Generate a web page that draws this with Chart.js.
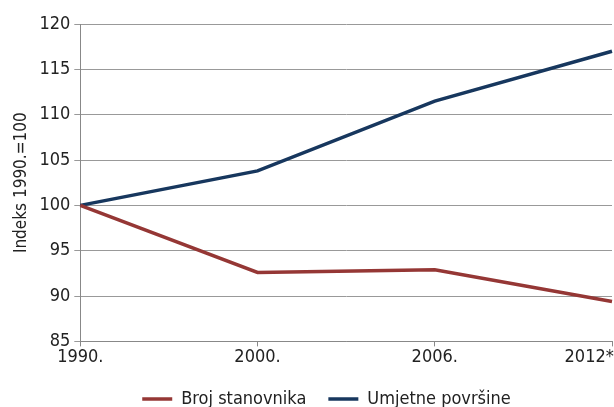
<!DOCTYPE html>
<html>
<head>
<meta charset="utf-8">
<script src="https://cdn.jsdelivr.net/npm/chart.js@4"></script>
<style>
  html, body { margin: 0; padding: 0; overflow: hidden; background: #fff; }
  #wrap { position: relative; width: 660px; height: 418px; }
</style>
</head>
<body>
<div id="wrap"><canvas id="chart"></canvas></div>
<script>
// categories and series (index, 1990. = 100)
const years = ['1990.', '2000.', '2006.', '2012*.'];
const brojStanovnika = [100, 92.6, 92.9, 89.4];
const umjetnePovrsine = [100, 103.8, 111.5, 117.0];
const yTicks = [85, 90, 95, 100, 105, 110, 115, 120];

const fontFamily = '"Liberation Sans Narrow", "DejaVu Sans Condensed", "Liberation Sans", sans-serif';

// legend in the source sits a little right of the canvas centre
const legendShift = {
    id: 'legendShift',
    afterLayout(chart) {
        chart.legend.left += 17;
        chart.legend.right += 17;
    }
};

const ctx = document.getElementById('chart').getContext('2d');
new Chart(ctx, {
    type: 'line',
    data: {
        labels: years,
        datasets: [
            {
                label: 'Broj stanovnika',
                data: brojStanovnika,
                borderColor: '#953735',
                backgroundColor: '#953735',
                borderWidth: 3.5,
                pointRadius: 0,
                tension: 0
            },
            {
                label: 'Umjetne površine',
                data: umjetnePovrsine,
                borderColor: '#17375e',
                backgroundColor: '#17375e',
                borderWidth: 3.5,
                pointRadius: 0,
                tension: 0
            }
        ]
    },
    options: {
        responsive: true,
        maintainAspectRatio: false,
        animation: false,
        layout: { padding: { top: 24, right: 48, left: 7, bottom: 0 } },
        scales: {
            x: {
                offset: false,
                grid: { drawOnChartArea: false, color: '#888', tickLength: 5 },
                border: { color: '#888' },
                ticks: {
                    color: '#222',
                    font: { family: fontFamily, size: 18 },
                    padding: 0,
                    maxRotation: 0,
                    autoSkip: false,
                    // last label sits left of its tick, as in the source
                    callback: (v, i) => i === years.length - 1 ? years[i] + '\u2002'.repeat(5) : years[i]
                }
            },
            y: {
                min: 85,
                max: 120,
                afterBuildTicks: axis => { axis.ticks = yTicks.map(v => ({ value: v })); },
                grid: { color: '#999', tickLength: 6 },
                border: { color: '#888' },
                ticks: {
                    color: '#222',
                    font: { family: fontFamily, size: 18 },
                    padding: 4
                },
                title: {
                    display: true,
                    text: 'Indeks 1990.=100',
                    color: '#222',
                    font: { family: fontFamily, size: 17 },
                    padding: 4
                }
            }
        },
        plugins: {
            legend: {
                position: 'bottom',
                labels: {
                    usePointStyle: true,
                    pointStyle: 'line',
                    pointStyleWidth: 30,
                    boxHeight: 3,
                    color: '#222',
                    font: { family: fontFamily, size: 18 },
                    padding: 22
                }
            },
            tooltip: { enabled: false }
        }
    },
    plugins: [legendShift]
});
</script>
</body>
</html>
